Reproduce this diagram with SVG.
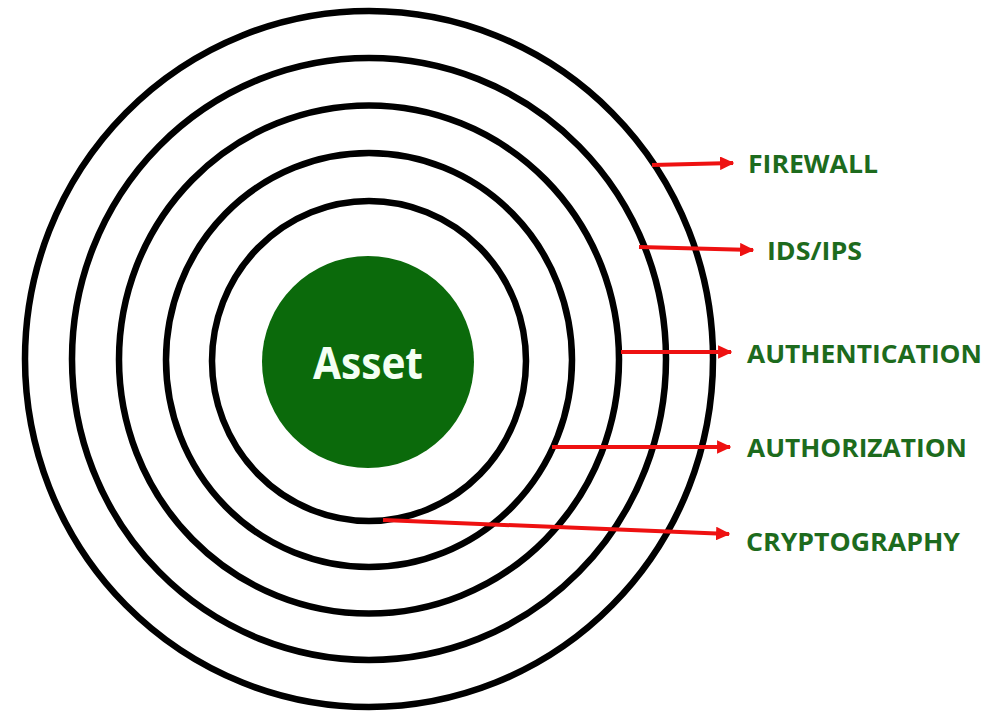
<svg xmlns="http://www.w3.org/2000/svg" width="998" height="714" viewBox="0 0 998 714">
<style>
.ring{fill:none;stroke:#000;stroke-width:6.5}
.arr{fill:none;stroke:#ee1111;stroke-width:4}
.lbl{font-family:"Open Sans","Liberation Sans",sans-serif;font-weight:700;font-size:25px;fill:#1d6b1d}
.asset{font-family:"Open Sans","Liberation Sans",sans-serif;font-weight:700;font-size:45px;fill:#f4fff4}
</style>
<defs>
<marker id="ah" viewBox="0 0 10 10" refX="9" refY="5" markerWidth="3.6" markerHeight="3.4" orient="auto" markerUnits="strokeWidth" preserveAspectRatio="none">
<path d="M0,0 L10,5 L0,10 Z" fill="#ee1111"/>
</marker>
</defs>
<rect width="998" height="714" fill="#fff"/>
<g id="rings">
<ellipse id="ring-firewall" class="ring" cx="369" cy="359" rx="344" ry="348"/>
<ellipse id="ring-idsips" class="ring" cx="369" cy="359" rx="297" ry="301"/>
<ellipse id="ring-authentication" class="ring" cx="369" cy="359.5" rx="250" ry="254"/>
<ellipse id="ring-authorization" class="ring" cx="369" cy="360" rx="203" ry="207"/>
<ellipse id="ring-cryptography" class="ring" cx="369" cy="361" rx="157" ry="160"/>
</g>
<g id="asset">
<circle cx="368" cy="362" r="106" fill="#0b6a0b"/>
<text class="asset" x="368" y="379" text-anchor="middle" textLength="110" lengthAdjust="spacingAndGlyphs">Asset</text>
</g>
<g id="connectors">
<line class="arr" x1="652" y1="165" x2="733" y2="163" marker-end="url(#ah)"/>
<line class="arr" x1="639" y1="247" x2="753" y2="250" marker-end="url(#ah)"/>
<line class="arr" x1="621" y1="352" x2="731" y2="352" marker-end="url(#ah)"/>
<line class="arr" x1="552" y1="447" x2="730" y2="447" marker-end="url(#ah)"/>
<line class="arr" x1="383" y1="520" x2="729" y2="534" marker-end="url(#ah)"/>
</g>
<g id="label-firewall"><text class="lbl" x="748" y="173" textLength="130" lengthAdjust="spacingAndGlyphs">FIREWALL</text></g>
<g id="label-idsips"><text class="lbl" x="767" y="260" textLength="95" lengthAdjust="spacingAndGlyphs">IDS/IPS</text></g>
<g id="label-authentication"><text class="lbl" x="747" y="363" textLength="235" lengthAdjust="spacingAndGlyphs">AUTHENTICATION</text></g>
<g id="label-authorization"><text class="lbl" x="747" y="457" textLength="220" lengthAdjust="spacingAndGlyphs">AUTHORIZATION</text></g>
<g id="label-cryptography"><text class="lbl" x="746" y="551" textLength="214" lengthAdjust="spacingAndGlyphs">CRYPTOGRAPHY</text></g>
</svg>
